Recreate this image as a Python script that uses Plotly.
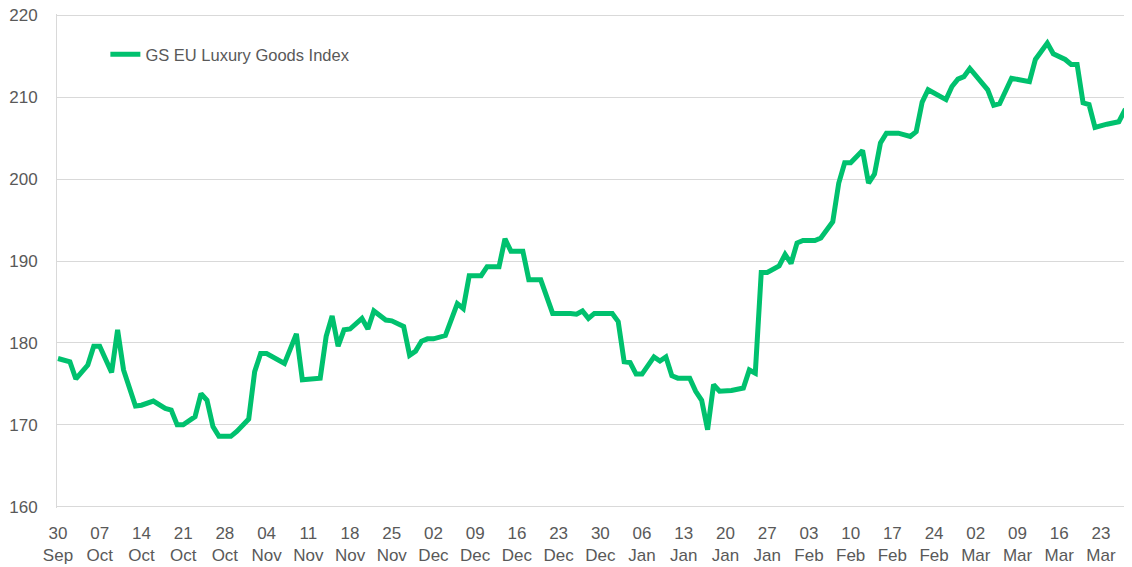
import plotly.graph_objects as go

series_name = "GS EU Luxury Goods Index"

dates = [
    "2023-09-30", "2023-10-02", "2023-10-03", "2023-10-04", "2023-10-05", "2023-10-06", "2023-10-07",
    "2023-10-09", "2023-10-10", "2023-10-11", "2023-10-13", "2023-10-14", "2023-10-16", "2023-10-18",
    "2023-10-19", "2023-10-20", "2023-10-21", "2023-10-23", "2023-10-24", "2023-10-25", "2023-10-26",
    "2023-10-27", "2023-10-29", "2023-10-30", "2023-10-31", "2023-11-01", "2023-11-02", "2023-11-03",
    "2023-11-04", "2023-11-06", "2023-11-07", "2023-11-09", "2023-11-10", "2023-11-13", "2023-11-14",
    "2023-11-15", "2023-11-16", "2023-11-17", "2023-11-18", "2023-11-20", "2023-11-21", "2023-11-22",
    "2023-11-24", "2023-11-25", "2023-11-27", "2023-11-28", "2023-11-29", "2023-11-30", "2023-12-01",
    "2023-12-02", "2023-12-04", "2023-12-06", "2023-12-07", "2023-12-08", "2023-12-10", "2023-12-11",
    "2023-12-13", "2023-12-14", "2023-12-15", "2023-12-17", "2023-12-18", "2023-12-20", "2023-12-22",
    "2023-12-25", "2023-12-26", "2023-12-27", "2023-12-28", "2023-12-29", "2024-01-01", "2024-01-02",
    "2024-01-03", "2024-01-04", "2024-01-05", "2024-01-06", "2024-01-08", "2024-01-09", "2024-01-10",
    "2024-01-11", "2024-01-12", "2024-01-14", "2024-01-15", "2024-01-16", "2024-01-17", "2024-01-18",
    "2024-01-19", "2024-01-21", "2024-01-23", "2024-01-24", "2024-01-25", "2024-01-26", "2024-01-27",
    "2024-01-29", "2024-01-30", "2024-01-31", "2024-02-01", "2024-02-02", "2024-02-04", "2024-02-05",
    "2024-02-07", "2024-02-08", "2024-02-09", "2024-02-10", "2024-02-12", "2024-02-13", "2024-02-14",
    "2024-02-15", "2024-02-16", "2024-02-18", "2024-02-20", "2024-02-21", "2024-02-22", "2024-02-23",
    "2024-02-26", "2024-02-27", "2024-02-28", "2024-02-29", "2024-03-01", "2024-03-04", "2024-03-05",
    "2024-03-06", "2024-03-08", "2024-03-11", "2024-03-12", "2024-03-14", "2024-03-15", "2024-03-17",
    "2024-03-18", "2024-03-19", "2024-03-20", "2024-03-21", "2024-03-22", "2024-03-24", "2024-03-26",
    "2024-03-27", "2024-03-28",
]

values = [
    178.1, 177.7, 175.6, 176.5, 177.3, 179.6, 179.6,
    176.4, 181.6, 176.7, 172.3, 172.4, 172.9, 172.0,
    171.8, 170.0, 170.0, 171.0, 173.8, 173.0, 169.8,
    168.6, 168.6, 169.2, 170.0, 170.7, 176.5, 178.7,
    178.7, 177.9, 177.5, 181.1, 175.5, 175.7, 180.8,
    183.3, 179.6, 181.6, 181.7, 183.0, 181.7, 183.9,
    182.8, 182.7, 182.0, 178.5, 179.0, 180.2, 180.5,
    180.5, 180.9, 184.8, 184.2, 188.2, 188.2, 189.3,
    189.3, 192.7, 191.2, 191.2, 187.7, 187.7, 183.6,
    183.6, 183.5, 183.9, 183.0, 183.6, 183.6, 182.6,
    177.7, 177.6, 176.2, 176.2, 178.3, 177.8, 178.3,
    176.0, 175.7, 175.7, 174.1, 173.0, 169.4, 174.9,
    174.1, 174.2, 174.5, 176.7, 176.3, 188.6, 188.6,
    189.4, 190.8, 189.7, 192.2, 192.5, 192.5, 192.8,
    194.8, 199.5, 202.0, 202.0, 203.5, 199.5, 200.6,
    204.4, 205.6, 205.6, 205.2, 205.8, 209.4, 210.9,
    209.7, 211.3, 212.2, 212.5, 213.5, 210.9, 209.0,
    209.2, 212.3, 211.9, 214.6, 216.6, 215.3, 214.6,
    214.0, 214.0, 209.3, 209.1, 206.3, 206.7, 207.0,
    208.4, 208.9,
]

tick_dates = [
    "2023-09-30", "2023-10-07", "2023-10-14", "2023-10-21", "2023-10-28", "2023-11-04",
    "2023-11-11", "2023-11-18", "2023-11-25", "2023-12-02", "2023-12-09", "2023-12-16",
    "2023-12-23", "2023-12-30", "2024-01-06", "2024-01-13", "2024-01-20", "2024-01-27",
    "2024-02-03", "2024-02-10", "2024-02-17", "2024-02-24", "2024-03-02", "2024-03-09",
    "2024-03-16", "2024-03-23",
]
tick_text = [
    "30<br>Sep", "07<br>Oct", "14<br>Oct", "21<br>Oct", "28<br>Oct", "04<br>Nov",
    "11<br>Nov", "18<br>Nov", "25<br>Nov", "02<br>Dec", "09<br>Dec", "16<br>Dec",
    "23<br>Dec", "30<br>Dec", "06<br>Jan", "13<br>Jan", "20<br>Jan", "27<br>Jan",
    "03<br>Feb", "10<br>Feb", "17<br>Feb", "24<br>Feb", "02<br>Mar", "09<br>Mar",
    "16<br>Mar", "23<br>Mar",
]
y_ticks = [160, 170, 180, 190, 200, 210, 220]

GREEN = "#00C16E"
GRID = "#D9D9D9"
TXT = "#595959"
FONT = "Liberation Sans, Arial, sans-serif"

fig = go.Figure()
fig.add_trace(go.Scatter(
    x=dates, y=values, mode="lines", name=series_name,
    line=dict(color=GREEN, width=5, shape="linear"),
    showlegend=True,
))

# the page body adds an 8px offset, so the figure is 8px smaller on each side
fig.update_layout(
    width=1124, height=559,
    margin=dict(l=49, r=0, t=6, b=59, autoexpand=False),
    paper_bgcolor="white", plot_bgcolor="white",
    font=dict(family=FONT, size=17, color=TXT),
    showlegend=True,
    legend=dict(
        x=0.045, y=0.918, xanchor="left", yanchor="middle",
        bgcolor="rgba(0,0,0,0)", font=dict(size=16.5, color=TXT),
    ),
    xaxis=dict(
        type="date", automargin=False,
        range=["2023-09-29 20:00", "2024-03-28 05:00"],
        tickmode="array", tickvals=tick_dates, ticktext=tick_text,
        showgrid=False, zeroline=False,
        showline=False, ticks="", ticklabelstandoff=13,
        ticklabeloverflow="allow",
        tickfont=dict(size=17, color=TXT),
    ),
    yaxis=dict(
        range=[159.85, 220.15], tickmode="array", tickvals=y_ticks, automargin=False,
        showgrid=True, gridcolor=GRID, gridwidth=1,
        zeroline=False, showline=True, linecolor=GRID, linewidth=1,
        ticks="", ticklabelstandoff=15, ticklabeloverflow="allow",
        tickfont=dict(size=17, color=TXT),
    ),
)

fig.write_html("out.html")
